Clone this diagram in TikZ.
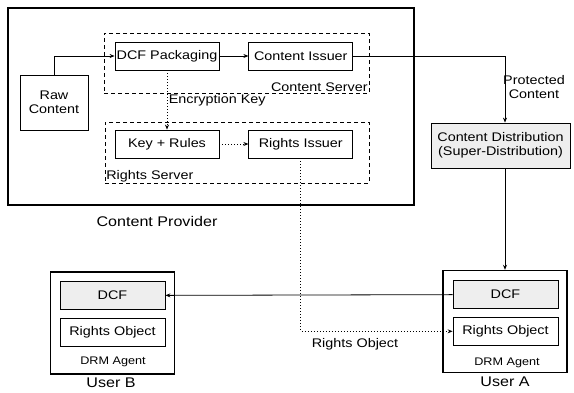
\documentclass[tikz,border=0pt]{standalone}
\usepackage{fontspec}
\setmainfont{Liberation Sans}[FakeStretch=1.15]
\usetikzlibrary{arrows.meta,positioning}
\definecolor{drmShade}{HTML}{EEEEEE}
\newcommand{\boxfont}{\fontsize{12.5}{14}\selectfont}
\newcommand{\bigfont}{\fontsize{14}{16}\selectfont}
\newcommand{\agentfont}{\fontsize{11}{13}\selectfont}

\begin{document}
\begin{tikzpicture}[x=1pt,y=-1pt,>={Stealth[length=5pt,width=4pt]},
      unit/.style={draw,line width=0.8pt,minimum width=104pt,minimum height=28pt,
                   inner sep=0pt,align=center,font=\boxfont},
      grp/.style={draw,line width=0.8pt,dash pattern=on 4pt off 3pt,inner sep=0pt},
      agent/.style={draw,line width=1.4pt,minimum width=124pt,minimum height=102pt,inner sep=0pt},
      lbl/.style={inner sep=1.5pt,font=\boxfont},
      flow/.style={->,line width=0.8pt},
      keyflow/.style={->,line width=0.8pt,dash pattern=on 1pt off 2pt}]
    \fill[white] (0,0) rectangle (574,392);
    \useasboundingbox (0,0) rectangle (574,392);
    % content provider side
    \node[draw,line width=1.6pt,minimum width=406pt,minimum height=197pt] (provider) at (211,106.5) {};
    \node[grp,minimum width=265pt,minimum height=60pt] (cserver) at (236.5,63) {};
    \node[grp,minimum width=264pt,minimum height=61pt] (rserver) at (237,152.5) {};
    \node[unit] (pack) at (167,56) {DCF Packaging};
    \node[unit,right=29pt of pack] (issuer) {Content Issuer};
    \node[unit,minimum width=68pt,minimum height=55pt] (raw) at (54,102.5) {Raw\\Content};
    \node[unit] (keys) at (167,144) {Key + Rules};
    \node[unit,right=29pt of keys] (rissuer) {Rights Issuer};
    \node[lbl,anchor=south east] (cslabel) at (cserver.south east) {Content Server};
    \node[lbl,anchor=south west] (rslabel) at (rserver.south west) {Rights Server};
    \node[font=\bigfont] (cplabel) at (157,221) {Content Provider};
    \node[unit,fill=drmShade,minimum width=139pt,minimum height=45pt] (dist) at (500.5,145.5)
       {Content Distribution\\(Super-Distribution)};
    % users
    \node[agent] (agentA) at (505,321.5) {};
    \node[unit,fill=drmShade,minimum width=105pt] (dcfA) at (505.5,294.5) {DCF};
    \node[unit,minimum width=105pt,below=8pt of dcfA] (roA) {Rights Object};
    \node[font=\agentfont] (drmA) at (507,363) {DRM Agent};
    \node[font=\bigfont] (userA) at (505,382) {User A};
    \node[agent] (agentB) at (112.5,323) {};
    \node[unit,fill=drmShade,minimum width=105pt] (dcfB) at (112.5,295.5) {DCF};
    \node[unit,minimum width=105pt,below=8pt of dcfB] (roB) {Rights Object};
    \node[font=\agentfont] (drmB) at (113,362) {DRM Agent};
    \node[font=\bigfont] (userB) at (111,383) {User B};
    % connectors
    \coordinate (drop) at (505,56);
    \draw[flow] (raw.north) |- (pack.west);
    \draw[flow] (pack) -- (issuer);
    \draw[flow] (issuer) -- (drop) -- (drop |- dist.north);
    \node[lbl,align=center] (protlabel) at (534,87) {Protected\\Content};
    \draw[keyflow] (pack) -- (keys) node[lbl,midway,right] (enclabel) {Encryption Key};
    \draw[keyflow] (keys) -- (rissuer);
    \draw[flow] (drop |- dist.south) -- (agentA.north);
    \draw[flow] (dcfA) -- (dcfB);
    \draw[keyflow] (rissuer.south) |- (roA.west);
    \node[lbl] (rolabel) at (355,344) {Rights Object};
\end{tikzpicture}
\end{document}
